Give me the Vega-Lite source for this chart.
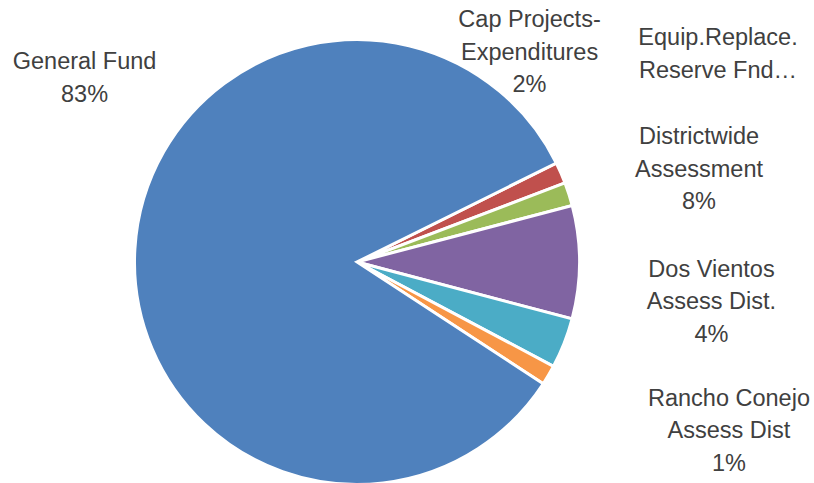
{
  "$schema": "https://vega.github.io/schema/vega-lite/v6.json",
  "width": 714,
  "height": 524,
  "autosize": {"type": "none"},
  "padding": {"left": 0, "top": 0, "right": 100, "bottom": 0},
  "background": "white",
  "config": {"view": {"stroke": null}},
  "data": {
    "values": [
      {"fund": "Cap Projects-Expenditures", "pct": 1.55, "idx": 1, "label": "Cap Projects-\nExpenditures\n2%"},
      {"fund": "Equip.Replace. Reserve Fnd", "pct": 1.7, "idx": 2, "label": "Equip.Replace.\nReserve Fnd…"},
      {"fund": "Districtwide Assessment", "pct": 8.2, "idx": 3, "label": "Districtwide\nAssessment\n8%"},
      {"fund": "Dos Vientos Assess Dist.", "pct": 3.65, "idx": 4, "label": "Dos Vientos\nAssess Dist.\n4%"},
      {"fund": "Rancho Conejo Assess Dist", "pct": 1.45, "idx": 5, "label": "Rancho Conejo\nAssess Dist\n1%"},
      {"fund": "General Fund", "pct": 83.45, "idx": 6, "label": "General Fund\n83%"}
    ]
  },
  "encoding": {
    "theta": {"field": "pct", "type": "quantitative", "stack": true, "scale": {"range": [1.11003, 7.39322]}},
    "order": {"field": "idx", "type": "quantitative"}
  },
  "layer": [
    {
      "mark": {"type": "arc", "outerRadius": 222.5, "stroke": "white", "strokeWidth": 3},
      "encoding": {
        "color": {
          "field": "fund", "type": "nominal", "legend": null,
          "scale": {
            "domain": ["Cap Projects-Expenditures", "Equip.Replace. Reserve Fnd", "Districtwide Assessment", "Dos Vientos Assess Dist.", "Rancho Conejo Assess Dist", "General Fund"],
            "range": ["#C0504D", "#9BBB59", "#8064A2", "#4BACC6", "#F79646", "#4F81BD"]
          }
        }
      }
    },
    {
      "mark": {"type": "text", "radius": 260, "dx": -65.7, "dy": -130.9, "align": "center", "baseline": "alphabetic", "lineBreak": "\n", "lineHeight": 32.7, "font": "Liberation Sans", "fontSize": 23.5, "fill": "#404040"},
      "encoding": {"detail": {"field": "fund"}, "text": {"condition": {"test": "datum.idx === 1", "field": "label"}, "value": ""}}
    },
    {
      "mark": {"type": "text", "radius": 260, "dx": 113.4, "dy": -137.7, "align": "center", "baseline": "alphabetic", "lineBreak": "\n", "lineHeight": 32.7, "font": "Liberation Sans", "fontSize": 23.5, "fill": "#404040"},
      "encoding": {"detail": {"field": "fund"}, "text": {"condition": {"test": "datum.idx === 2", "field": "label"}, "value": ""}}
    },
    {
      "mark": {"type": "text", "radius": 260, "dx": 82, "dy": -118.3, "align": "center", "baseline": "alphabetic", "lineBreak": "\n", "lineHeight": 32.7, "font": "Liberation Sans", "fontSize": 23.5, "fill": "#404040"},
      "encoding": {"detail": {"field": "fund"}, "text": {"condition": {"test": "datum.idx === 3", "field": "label"}, "value": ""}}
    },
    {
      "mark": {"type": "text", "radius": 260, "dx": 112.4, "dy": -80.1, "align": "center", "baseline": "alphabetic", "lineBreak": "\n", "lineHeight": 32.7, "font": "Liberation Sans", "fontSize": 23.5, "fill": "#404040"},
      "encoding": {"detail": {"field": "fund"}, "text": {"condition": {"test": "datum.idx === 4", "field": "label"}, "value": ""}}
    },
    {
      "mark": {"type": "text", "radius": 260, "dx": 148.1, "dy": 11.5, "align": "center", "baseline": "alphabetic", "lineBreak": "\n", "lineHeight": 32.7, "font": "Liberation Sans", "fontSize": 23.5, "fill": "#404040"},
      "encoding": {"detail": {"field": "fund"}, "text": {"condition": {"test": "datum.idx === 5", "field": "label"}, "value": ""}}
    },
    {
      "mark": {"type": "text", "radius": 260, "dx": -12.9, "dy": -177.6, "align": "center", "baseline": "alphabetic", "lineBreak": "\n", "lineHeight": 32.7, "font": "Liberation Sans", "fontSize": 23.5, "fill": "#404040"},
      "encoding": {"detail": {"field": "fund"}, "text": {"condition": {"test": "datum.idx === 6", "field": "label"}, "value": ""}}
    }
  ]
}
